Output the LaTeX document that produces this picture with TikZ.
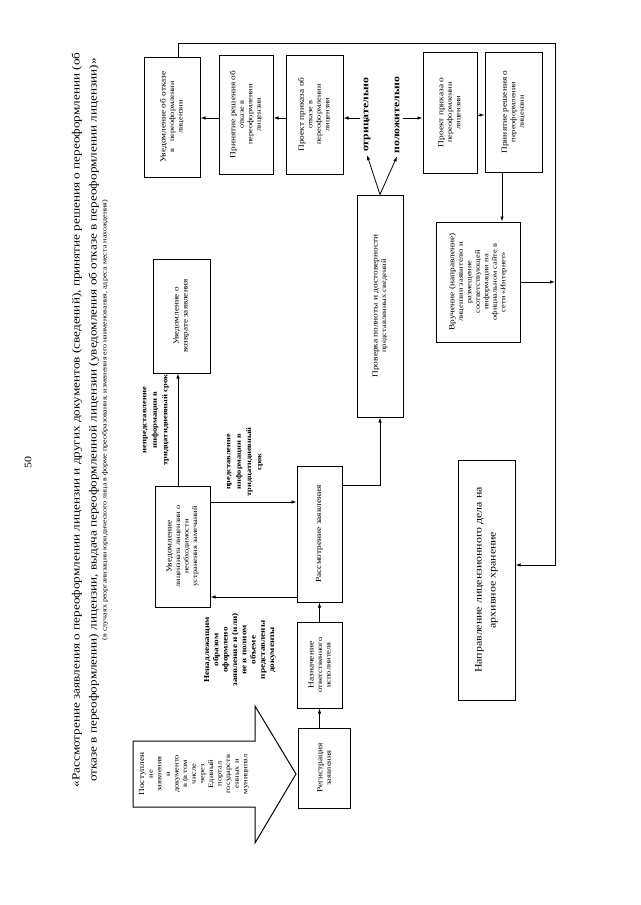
\documentclass[tikz,border=0pt]{standalone}
\usepackage{fontspec}
\setmainfont[FakeStretch=1.2]{Liberation Serif}
\usetikzlibrary{arrows.meta,positioning,calc}

\newcommand{\firstln}[1]{{\fontsize{7.8}{9}\selectfont #1}}

\begin{document}
\begin{tikzpicture}[
        x=1pt, y=-1pt,
        blk/.style={draw, line width=1pt, rotate=90, align=center, inner sep=1pt,
            font=\fontsize{7}{8.5}\selectfont},
        lbl/.style={rotate=90, align=center, inner sep=0pt,
            font=\fontsize{7.6}{9.3}\selectfont\bfseries},
        answer/.style={rotate=90, inner sep=3pt, font=\fontsize{9.8}{12}\selectfont\bfseries},
        arr/.style={-{Latex[length=5pt,width=3.5pt]}, line width=0.8pt},
    ]
        \useasboundingbox (0,0) rectangle (640,905);

        % Page number and title
        \node[rotate=90, font=\fontsize{10}{12}\selectfont] (pagenum) at (28, 462) {50};
        \node[rotate=90, align=center, font=\fontsize{11}{17}\selectfont] (title) at (90, 420)
            {«Рассмотрение заявления о переоформлении лицензии и других документов (сведений), принятие решения о переоформлении (об\\
             отказе в переоформлении) лицензии, выдача переоформленной лицензии (уведомления об отказе в переоформлении лицензии)»\\[-7pt]
             {\fontsize{6.7}{9}\selectfont (в случаях реорганизации юридического лица в форме преобразования, изменения его наименования, адреса места нахождения)}};

        % Incoming block arrow
        \draw[line width=1pt] (133,741) -- (255,741) -- (255,706) -- (296,774)
            -- (255,843) -- (255,807) -- (133,807) -- cycle;
        \node[rotate=90, align=center, font=\fontsize{7}{8.6}\selectfont] (post) at (194, 774)
            {\firstln{Поступлен}\\ие\\заявления\\и\\документо\\в (в том\\числе\\через\\Единый\\портал\\государств\\енных и\\муниципал};

        % Boxes
        \node[blk, minimum width=80, minimum height=52] (reg) at (324, 768) {\firstln{Регистрация}\\заявления};
        \node[blk, minimum width=86, minimum height=45] (naz) at (319.5, 665) {\firstln{Назначение}\\ответственного\\исполнителя};
        \node[blk, minimum width=136, minimum height=45] (rass) at (319.5, 534) {\firstln{Рассмотрение заявления}};
        \node[blk, minimum width=121, minimum height=55] (uvzam) at (182.5, 546.5)
            {\firstln{Уведомление}\\лицензиата лицензии о\\необходимости\\устранения замечаний};
        \node[blk, minimum width=114, minimum height=57, font=\fontsize{7.6}{9}\selectfont] (uvvozv) at (181.5, 316)
            {Уведомление о\\возврате заявления};
        \node[blk, minimum width=222, minimum height=46] (prov) at (380, 306)
            {\firstln{Проверка полноты и достоверности}\\представленных сведений};
        \node[blk, minimum width=120, minimum height=56] (uvotk) at (172, 117)
            {\firstln{Уведомление об отказе}\\в\quad переоформлении\\лицензии};
        \node[blk, minimum width=119, minimum height=54] (reshotk) at (246, 114.5)
            {\firstln{Принятие решения об}\\отказе в\\переоформлении\\лицензии};
        \node[blk, minimum width=119, minimum height=57] (proekotk) at (314.5, 114.5)
            {\firstln{Проект приказа об}\\отказе в\\переоформлении\\лицензии};
        \node[blk, minimum width=121, minimum height=54] (proekper) at (450, 112.5)
            {\firstln{Проект приказа о}\\переоформлении\\лицензии};
        \node[blk, minimum width=120, minimum height=57] (reshper) at (513.5, 112)
            {\firstln{Принятие решения о}\\переоформлении\\лицензии};
        \node[blk, minimum width=120, minimum height=84] (vruch) at (478, 282)
            {\firstln{Вручение (направление)}\\лицензии заявителю и\\размещение\\соответствующей\\информации на\\официальном сайте в\\сети «Интернет»};
        \node[blk, minimum width=240, minimum height=57, font=\fontsize{9.9}{14}\selectfont] (arkh) at (486.5, 580)
            {Направление лицензионного дела на\\архивное хранение};

        % Labels
        \node[lbl] (nenadl) at (240, 650)
            {Ненадлежащим\\образом\\оформлено\\заявление и (или)\\не в полном\\объеме\\представлены\\документы};
        \node[lbl, font=\fontsize{7}{10.3}\selectfont\bfseries] (predst) at (245, 462)
            {представление\\информации в\\тридцатидневный\\срок};
        \node[lbl, font=\fontsize{7.2}{10.5}\selectfont\bfseries] (nepredst) at (156, 420)
            {непредставление\\информации в\\тридцатидневный срок};
        \node[answer] (otr) at (367, 115) {отрицательно};
        \node[answer] (pol) at (397, 115) {положительно};

        % Connectors
        \coordinate (ttop) at (178, 43);
        \coordinate (rline) at (555, 43);
        \draw[arr] (reg.east -| naz.center) -- (naz.west);
        \draw[arr] (naz.east) -- (rass.west);
        \draw[arr] (rass.north |- 0,597) -- (uvzam.south |- 0,597);
        \draw[arr] (uvzam.south |- 0,502) -- (rass.north |- 0,502);
        \draw[arr] (uvzam.east -| 178,0) -- (uvvozv.west -| 178,0);
        \draw[arr] (rass.south |- 0,485) -| (prov.west);
        \draw[arr] (prov.east) -- (otr.west);
        \draw[arr] (prov.east) -- (pol.west);
        \draw[arr] (otr.north |- 0,118) -- (proekotk.south |- 0,118);
        \draw[arr] (proekotk.north |- 0,118) -- (reshotk.south |- 0,118);
        \draw[arr] (reshotk.north |- 0,118) -- (uvotk.south |- 0,118);
        \draw[arr] (pol.south |- 0,118) -- (proekper.north |- 0,118);
        \draw[arr] (proekper.south |- 0,115) -- (reshper.north |- 0,115);
        \draw[arr] (reshper.west -| 502,0) -- (vruch.east -| 502,0);
        \draw[arr] (vruch.south) -- (vruch.south -| rline);
        \draw[arr] (uvotk.east -| ttop) -- (ttop) -- (rline) -- (rline |- 0,565) -- (arkh.south |- 0,565);
    \end{tikzpicture}
\end{document}
